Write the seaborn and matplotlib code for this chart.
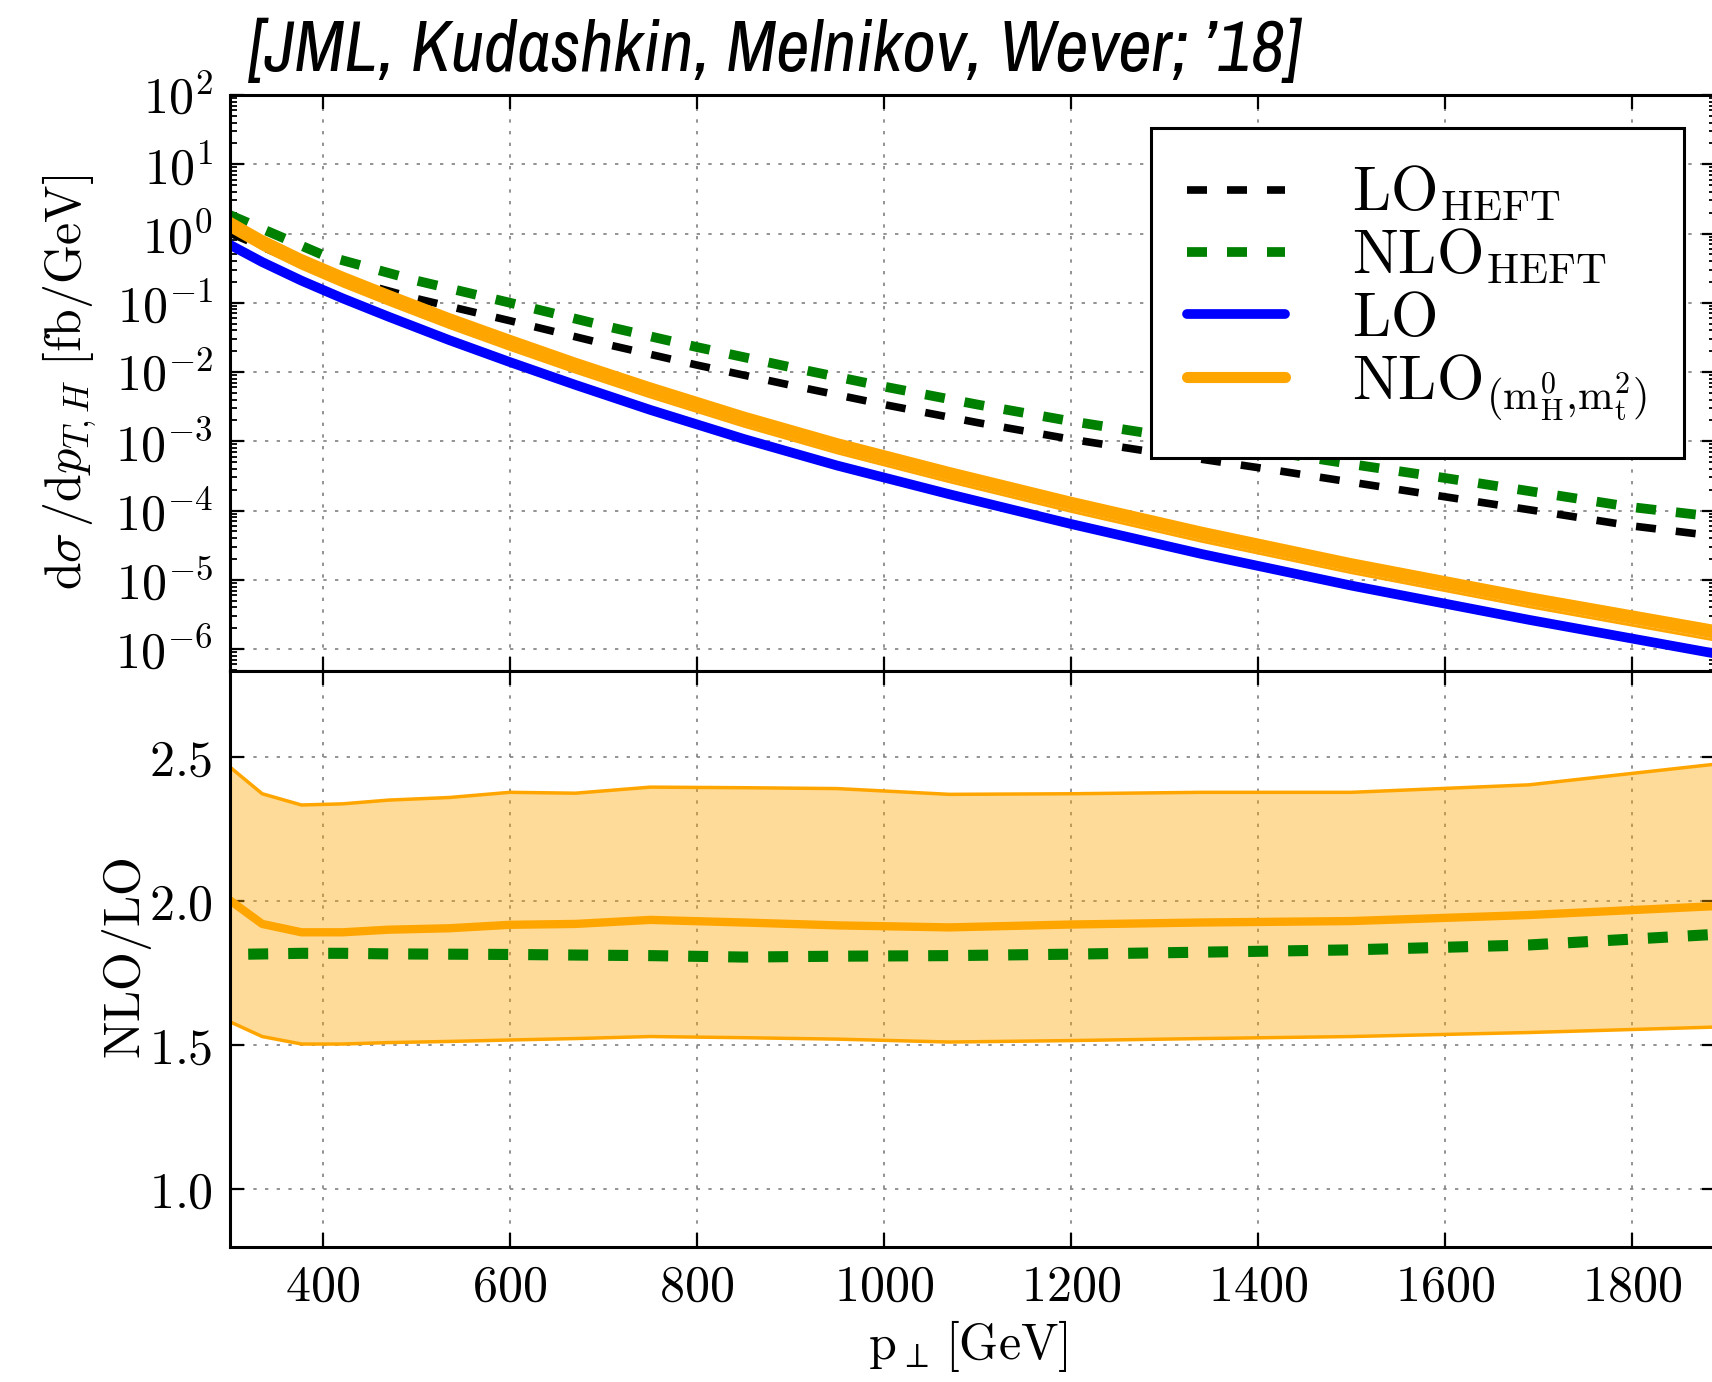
import numpy as np
import matplotlib
matplotlib.use('Agg')
import matplotlib.pyplot as plt
import seaborn as sns
from matplotlib import font_manager
from matplotlib.font_manager import FontProperties
from matplotlib.ticker import FixedLocator, FuncFormatter, LogLocator, NullFormatter, NullLocator

# --- values (pT in GeV, cross sections in fb/GeV) ---
pt = [300, 335, 377, 421, 470, 535, 600, 670, 750, 850, 950, 1070, 1200, 1340, 1500, 1690, 1890]
lo = [0.692, 0.387, 0.2084, 0.1159, 0.0630, 0.0289, 0.0139, 6.52e-3, 2.84e-3, 1.081e-3, 4.46e-4,
      1.718e-4, 6.40e-5, 2.355e-5, 8.24e-6, 2.64e-6, 8.55e-7]
nlo = [1.387, 0.743, 0.3945, 0.2193, 0.1197, 0.0551, 0.02667, 0.0125, 5.50e-3, 2.08e-3, 8.53e-4,
       3.28e-4, 1.227e-4, 4.53e-5, 1.592e-5, 5.15e-6, 1.694e-6]

# NLO/LO ratio: central value and scale band
k_central = [2.003, 1.92, 1.891, 1.891, 1.90, 1.905, 1.917, 1.92, 1.934, 1.925, 1.915,
             1.908, 1.918, 1.925, 1.93, 1.951, 1.982]
k_up = [2.466, 2.372, 2.333, 2.337, 2.35, 2.359, 2.377, 2.374, 2.395, 2.393, 2.39,
        2.37, 2.372, 2.377, 2.377, 2.403, 2.475]
k_down = [1.581, 1.529, 1.503, 1.503, 1.508, 1.512, 1.517, 1.522, 1.529, 1.525, 1.52,
          1.51, 1.515, 1.522, 1.529, 1.543, 1.562]

pt_heft = [300, 400, 500, 600, 700, 800, 900, 1000, 1100, 1200, 1300, 1400, 1500, 1600, 1700, 1800, 1890]
lo_heft = [1.02, 0.27, 0.115, 0.055, 0.0257, 0.0126, 6.46e-3, 3.39e-3, 1.86e-3, 1.07e-3, 6.6e-4,
           4.17e-4, 2.57e-4, 1.58e-4, 9.8e-5, 6.0e-5, 4.27e-5]
nlo_heft = [1.86, 0.49, 0.209, 0.1, 0.0468, 0.0229, 0.01175, 6.17e-3, 3.39e-3, 1.95e-3, 1.2e-3,
            7.6e-4, 4.68e-4, 2.95e-4, 1.82e-4, 1.12e-4, 8.1e-5]

pt_k_heft = [320, 377, 421, 470, 535, 600, 670, 750, 850, 950, 1070, 1200, 1340, 1500, 1690, 1890]
k_heft = [1.815, 1.818, 1.818, 1.816, 1.815, 1.814, 1.812, 1.81, 1.805, 1.808, 1.81, 1.815,
          1.822, 1.83, 1.847, 1.884]

labels = [r'$\mathrm{LO}_{\mathrm{HEFT}}$', r'$\mathrm{NLO}_{\mathrm{HEFT}}$', r'$\mathrm{LO}$',
          r'$\mathrm{NLO}_{(\mathrm{m}_{\mathrm{H}}^{0}{,}\mathrm{m}_{\mathrm{t}}^{2})}$']
title = '[JML, Kudashkin, Melnikov, Wever; \u201918]'

sns.set_theme(style='ticks')
plt.rcParams.update({
    'mathtext.fontset': 'cm',
    'text.color': 'black', 'axes.labelcolor': 'black',
    'axes.linewidth': 2.2,
    'axes.edgecolor': 'black',
    'xtick.direction': 'in', 'ytick.direction': 'in',
    'xtick.top': True, 'ytick.right': True,
    'xtick.major.size': 10, 'ytick.major.size': 10,
    'xtick.minor.size': 5, 'ytick.minor.size': 5,
    'xtick.major.width': 1.6, 'ytick.major.width': 1.6,
    'xtick.minor.width': 1.3, 'ytick.minor.width': 1.3,
    'xtick.color': 'black', 'ytick.color': 'black',
    'xtick.labelsize': 36, 'ytick.labelsize': 36,
    'axes.labelsize': 36,
})

W, H = 1712, 1382
fig = plt.figure(figsize=(W / 100, H / 100), dpi=100)
left, right = 229.5, 1716.0
top, mid, bottom = 95.0, 670.5, 1246.5
ax = fig.add_axes([left / W, (H - mid) / H, (right - left) / W, (mid - top) / H])
axr = fig.add_axes([left / W, (H - bottom) / H, (right - left) / W, (bottom - mid) / H])

grid_kw = dict(color='#808080', linestyle=(0, (2, 5)), linewidth=1.2)
dash = lambda lw: (0, (14.4 / lw, 14.4 / lw))

# --- upper panel: spectra ---
sns.lineplot(x=pt_heft, y=lo_heft, ax=ax, color='black', lw=5.5, linestyle=dash(5.5), label=labels[0])
sns.lineplot(x=pt_heft, y=nlo_heft, ax=ax, color='green', lw=7, linestyle=dash(7), label=labels[1])
sns.lineplot(x=pt, y=lo, ax=ax, color='blue', lw=7, label=labels[2])
band_scale_up = np.array(k_up) / np.array(k_central)
band_scale_dn = np.array(k_down) / np.array(k_central)
ax.fill_between(pt, np.array(nlo) * band_scale_dn, np.array(nlo) * band_scale_up,
                color='orange', alpha=0.4, lw=0)
ax.plot(pt, np.array(nlo) * band_scale_up, color='orange', lw=2)
ax.plot(pt, np.array(nlo) * band_scale_dn, color='orange', lw=2)
sns.lineplot(x=pt, y=nlo, ax=ax, color='orange', lw=8, label=labels[3])

ax.set_yscale('log')
ax.set_xlim(300, 1890)
ax.set_ylim(4.9e-7, 100)
ax.xaxis.set_major_locator(FixedLocator(range(400, 1900, 200)))
ax.xaxis.set_minor_locator(NullLocator())
ax.xaxis.set_major_formatter(NullFormatter())
ax.yaxis.set_major_locator(LogLocator(base=10, numticks=20))
ax.yaxis.set_minor_locator(LogLocator(base=10, subs=np.arange(2, 10), numticks=20))
ax.yaxis.set_minor_formatter(NullFormatter())
ax.yaxis.set_major_formatter(FuncFormatter(lambda v, p: r'$10^{%d}$' % round(np.log10(v))))
ax.grid(True, which='major', **grid_kw)
ax.tick_params(axis='y', pad=12)
ax.set_ylabel(r'$\mathrm{d}\sigma\,/\mathrm{d}p_{T,H}\ [\mathrm{fb}/\mathrm{GeV}]$')
ax.yaxis.set_label_coords(-0.088, 0.5)

leg = ax.legend(loc='upper right', bbox_to_anchor=(0.9785, 0.9427), borderaxespad=0,
                fontsize=44, frameon=True, fancybox=False, framealpha=1, edgecolor='black',
                handlelength=1.6, handletextpad=1.1, borderpad=0.6, labelspacing=0.05)
leg.get_frame().set_linewidth(2.2)

# --- lower panel: NLO/LO ratio ---
axr.fill_between(pt, k_down, k_up, color='orange', alpha=0.4, lw=0)
sns.lineplot(x=pt, y=k_up, ax=axr, color='orange', lw=2.5)
sns.lineplot(x=pt, y=k_down, ax=axr, color='orange', lw=2.5)
sns.lineplot(x=pt, y=k_central, ax=axr, color='orange', lw=6)
sns.lineplot(x=pt_k_heft, y=k_heft, ax=axr, color='green', lw=8, linestyle=dash(8))

axr.set_xlim(300, 1890)
axr.set_ylim(0.8, 2.8)
axr.xaxis.set_major_locator(FixedLocator(range(400, 1900, 200)))
axr.xaxis.set_minor_locator(NullLocator())
axr.yaxis.set_major_locator(FixedLocator([1.0, 1.5, 2.0, 2.5]))
axr.yaxis.set_minor_locator(NullLocator())
axr.xaxis.set_major_formatter(FuncFormatter(lambda v, p: r'$%d$' % v))
axr.yaxis.set_major_formatter(FuncFormatter(lambda v, p: r'$%.1f$' % v))
axr.grid(True, which='major', **grid_kw)
axr.tick_params(axis='y', pad=12)
axr.tick_params(axis='x', pad=12)
axr.set_ylabel(r'$\mathrm{NLO}/\mathrm{LO}$')
axr.yaxis.set_label_coords(-0.051, 0.5)
axr.set_xlabel(r'$\mathrm{p}_{\perp}\,[\mathrm{GeV}]$')
axr.xaxis.set_label_coords(0.497, -0.125)
axr.xaxis.label.set_va('top')

# --- citation on top: condensed italic face, regular-ish weight if installed ---
def weight_num(w):
    return w if isinstance(w, (int, float)) else font_manager.weight_dict.get(w, 400)

cands = [f for f in font_manager.fontManager.ttflist if 'Narrow' in f.name or 'Condensed' in f.name]
slanted = [f for f in cands if f.style in ('italic', 'oblique')]
if slanted:
    best = min(slanted, key=lambda f: abs(weight_num(f.weight) - 360))
    tprop = FontProperties(fname=best.fname, size=52)
else:
    tprop = FontProperties(family='Liberation Sans', style='italic', size=52)
t = fig.text(249 / W, 1 - 52 / H, title, ha='left', va='center', fontproperties=tprop, color='black')
fig.canvas.draw()
bb = t.get_window_extent()
t.set_fontsize(52 * (1301 - 249) / bb.width)

fig.savefig('out.png', dpi=100)
